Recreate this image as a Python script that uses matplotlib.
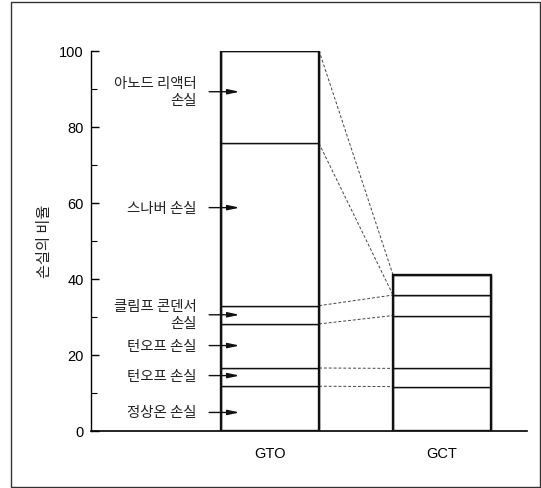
import matplotlib
matplotlib.use("Agg")
import matplotlib.pyplot as plt
from matplotlib.patches import Rectangle
import numpy as np

plt.rcParams['font.family'] = ['Noto Sans CJK KR', 'DejaVu Sans']

devices = ["GTO", "GCT"]
loss_names = ["정상온 손실", "턴오프 손실", "턴오프 손실", "클림프 콘덴서\n손실", "스나버 손실", "아노드 리액터\n손실"]
gto_losses = [11.7, 4.8, 11.6, 4.8, 42.7, 24.4]
gct_losses = [11.6, 4.8, 13.9, 5.4, 0.0, 5.3]
label_y = [4.8, 14.5, 22.4, 30.5, 58.7, 89.2]
yticks = [0, 20, 40, 60, 80, 100]

fig = plt.figure(figsize=(5.41, 4.89), dpi=100)
ax = fig.add_axes([0.1677, 0.1172, 0.8065, 0.7771])

x = np.arange(len(devices))
width = 0.57
series = [gto_losses, gct_losses]

for xi, vals in zip(x, series):
    bottom = 0.0
    for v in vals:
        ax.bar(xi, v, width, bottom=bottom, color="white", edgecolor="#111111", linewidth=1.0, zorder=2)
        bottom += v
    ax.bar(xi, sum(vals), width, fill=False, edgecolor="#111111", linewidth=1.7, zorder=3)

gto_cum = np.cumsum(gto_losses)
gct_cum = np.cumsum(gct_losses)
for a, b in zip(gto_cum, gct_cum):
    ax.plot([x[0] + width / 2, x[1] - width / 2], [a, b], color="#444444", lw=0.7,
            ls=(0, (3, 2)), zorder=1)

for name, yv in zip(loss_names, label_y):
    ax.annotate("", xy=(-0.16, yv), xytext=(-0.37, yv),
                arrowprops=dict(arrowstyle="-|>,head_length=0.7,head_width=0.15", color="#111111", lw=1.0),
                zorder=4)
    ax.text(-0.425, yv, name, ha="right", va="center", fontsize=10.4, color="#222222",
            linespacing=1.3)

ax.set_xlim(-1.042, 1.494)
ax.set_ylim(0, 100)
ax.set_xticks(x)
ax.set_xticklabels(devices, fontsize=10.5, family=['Liberation Sans', 'DejaVu Sans'])
ax.tick_params(axis='x', length=0, pad=11)
ax.set_yticks(yticks)
ax.set_yticks([10, 30, 50, 70, 90], minor=True)
ax.set_yticklabels([str(t) for t in yticks], fontsize=10.5, family=['Liberation Sans', 'DejaVu Sans'])
ax.tick_params(axis='y', which='major', direction='in', length=6, width=1.0, pad=5)
ax.tick_params(axis='y', which='minor', direction='in', length=4, width=0.8)
ax.spines['top'].set_visible(False)
ax.spines['right'].set_visible(False)
ax.spines['left'].set_linewidth(1.0)
ax.spines['bottom'].set_linewidth(1.2)
ax.set_ylabel("손실의 비율", fontsize=11, labelpad=4.5, color="#222222")

fig.patches.append(Rectangle((11 / 541, 1 - 488 / 489), (540 - 11) / 541, (488 - 3) / 489,
                             transform=fig.transFigure, fill=False, edgecolor="#333333", lw=1.0))

fig.savefig("out.png", dpi=100)
